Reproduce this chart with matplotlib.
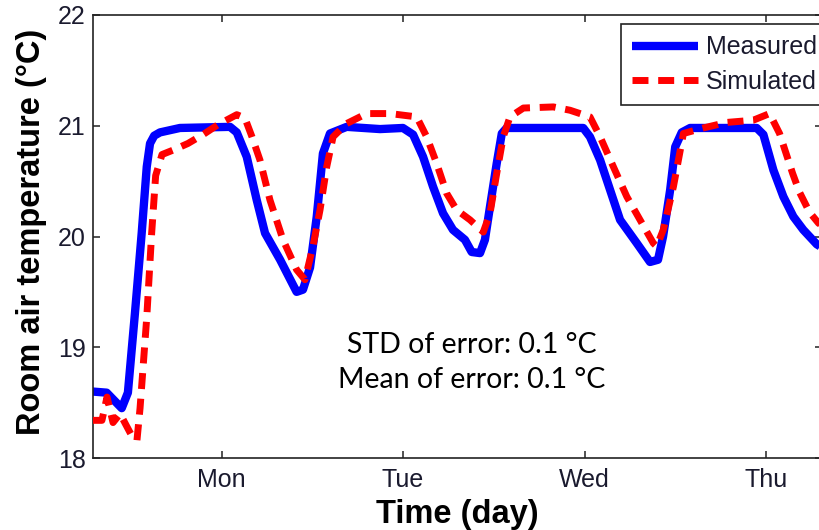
import matplotlib
matplotlib.use("Agg")
import matplotlib.pyplot as plt

# Time in days (Mon = 1, Tue = 2, ...)
measured_t = [0.289, 0.366, 0.449, 0.483, 0.522, 0.559, 0.587, 0.605, 0.628, 0.660, 0.770,
              1.046, 1.083, 1.138, 1.193, 1.239, 1.322, 1.413, 1.448, 1.487, 1.524,
              1.558, 1.597, 1.689, 1.873, 1.999, 2.055, 2.110, 2.165, 2.220, 2.275,
              2.341, 2.378, 2.424, 2.451, 2.479, 2.516, 2.544, 2.571, 2.993, 3.030,
              3.086, 3.141, 3.196, 3.288, 3.361, 3.405, 3.433, 3.472, 3.500, 3.536,
              3.582, 3.949, 3.986, 4.041, 4.096, 4.151, 4.206, 4.280, 4.309]
measured_temp = [18.60, 18.59, 18.45, 18.59, 19.31, 20.03, 20.63, 20.84, 20.91, 20.94, 20.98,
                 20.99, 20.94, 20.72, 20.33, 20.03, 19.79, 19.50, 19.52, 19.72, 20.18,
                 20.75, 20.93, 20.99, 20.97, 20.98, 20.92, 20.72, 20.45, 20.21, 20.06,
                 19.97, 19.86, 19.85, 19.97, 20.27, 20.66, 20.93, 20.98, 20.98, 20.90,
                 20.69, 20.42, 20.15, 19.94, 19.77, 19.79, 20.00, 20.42, 20.81, 20.94,
                 20.98, 20.98, 20.92, 20.60, 20.36, 20.18, 20.06, 19.93, 19.90]

simulated_t = [0.289, 0.340, 0.368, 0.401, 0.440, 0.472, 0.511, 0.533, 0.550, 0.587,
               0.614, 0.636, 0.671, 0.732, 0.814, 0.897, 0.980, 1.083, 1.128, 1.167,
               1.211, 1.266, 1.338, 1.413, 1.459, 1.503, 1.542, 1.579, 1.614, 1.689,
               1.799, 1.928, 2.075, 2.130, 2.185, 2.240, 2.295, 2.369, 2.442, 2.479,
               2.516, 2.552, 2.589, 2.663, 2.828, 2.920, 3.030, 3.086, 3.159, 3.233,
               3.306, 3.379, 3.398, 3.434, 3.490, 3.545, 3.655, 3.784, 3.930, 4.020,
               4.075, 4.147, 4.185, 4.240, 4.290, 4.309]
simulated_temp = [18.34, 18.34, 18.55, 18.32, 18.40, 18.30, 18.18, 18.16, 18.45, 19.27,
                  20.03, 20.55, 20.74, 20.78, 20.84, 20.92, 21.01, 21.10, 21.07, 20.90,
                  20.69, 20.33, 19.97, 19.70, 19.61, 19.91, 20.24, 20.63, 20.90, 21.02,
                  21.11, 21.11, 21.08, 20.90, 20.66, 20.39, 20.24, 20.15, 20.04, 20.21,
                  20.57, 20.90, 21.08, 21.16, 21.17, 21.14, 21.08, 20.90, 20.63, 20.36,
                  20.15, 19.94, 19.91, 20.06, 20.45, 20.93, 20.98, 21.03, 21.05, 21.11,
                  20.93, 20.57, 20.40, 20.22, 20.12, 20.10]

day_ticks = [1, 2, 3, 4]
day_labels = ["Mon", "Tue", "Wed", "Thu"]
temp_ticks = [18, 19, 20, 21, 22]

plt.rcParams['font.family'] = ['Liberation Sans', 'DejaVu Sans']

W, H = 819, 530
fig = plt.figure(figsize=(W / 100, H / 100), dpi=100)
ax = fig.add_axes([92.7 / W, 1 - 458 / H, (822 - 92.7) / W, (458 - 15) / H])

ax.plot(measured_t, measured_temp, color='#0000ff', lw=6, solid_joinstyle='round',
        solid_capstyle='butt', label='Measured', zorder=2)
ax.plot(simulated_t, simulated_temp, color='#ff0000', lw=5, dashes=(2.3, 1.4),
        dash_capstyle='butt', label='Simulated', zorder=3)

ax.set_xlim(0.289, 4.309)
ax.set_ylim(18, 22)
ax.set_xticks(day_ticks)
ax.set_xticklabels(day_labels)
ax.set_yticks(temp_ticks)

for s in ax.spines.values():
    s.set_linewidth(1.2)
    s.set_color('#222222')

ax.tick_params(direction='in', length=5, width=1.1, color='#222222',
               top=True, right=True, labelsize=18, labelcolor='#1a1a2e')
ax.tick_params(axis='x', pad=7)
ax.tick_params(axis='y', pad=5)

ax.set_xlabel('Time (day)', fontsize=23.5, fontweight='bold')
ax.xaxis.set_label_coords(0.5, -0.093)
ax.set_ylabel('Room air temperature (°C)', fontsize=23.5, fontweight='bold')
ax.yaxis.set_label_coords(-0.062, 0.51)

txt_kw = dict(transform=ax.transAxes, ha='center', va='center', fontsize=20.5,
              family=['Lato', 'DejaVu Sans'], color='black')
ax.text(0.520, 0.255, 'STD of error: 0.1 °C', **txt_kw)
ax.text(0.520, 0.176, 'Mean of error: 0.1 °C', **txt_kw)

leg = ax.legend(loc='upper left', bbox_to_anchor=(621 / W, 1 - 24 / H),
                bbox_transform=fig.transFigure, fontsize=18, frameon=True,
                fancybox=False, framealpha=1, edgecolor='#222222',
                handlelength=2.64, handletextpad=0.3, borderpad=0.45,
                labelspacing=0.42, borderaxespad=0)
leg.get_frame().set_linewidth(1.2)
for t in leg.get_texts():
    t.set_color('#1a1a2e')

fig.savefig('out.png', dpi=100)
